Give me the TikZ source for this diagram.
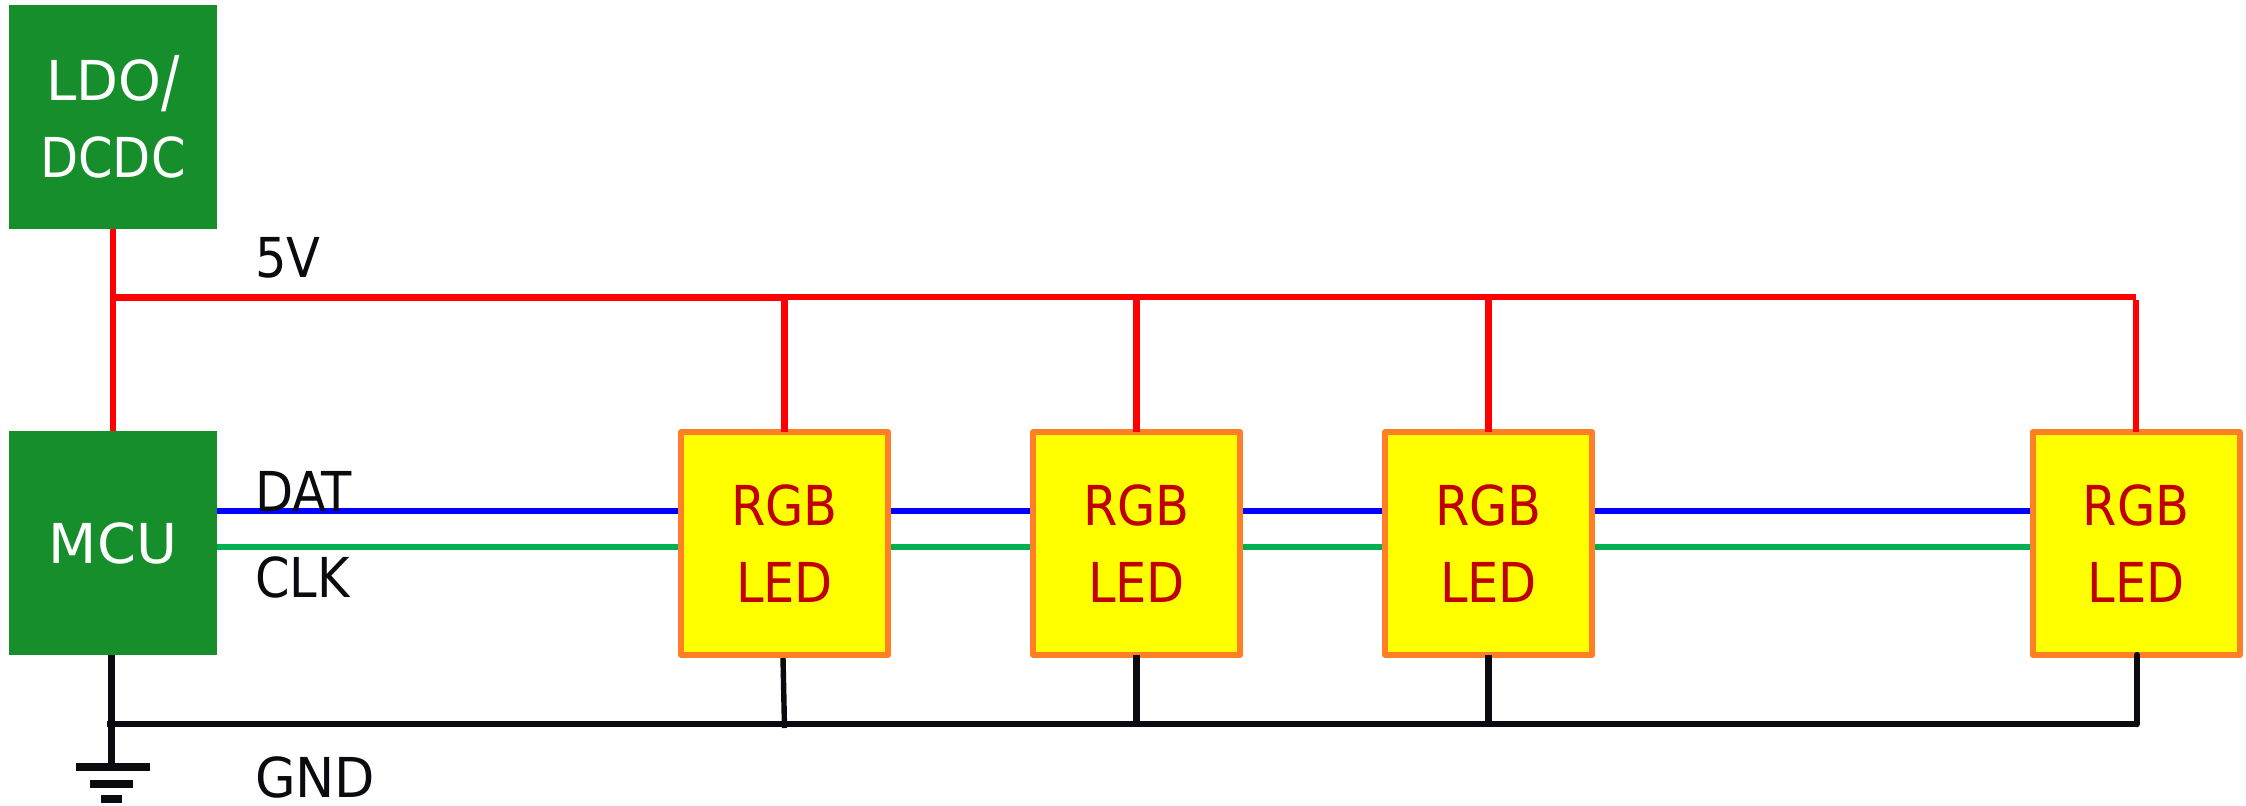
\documentclass[tikz,border=0pt]{standalone}
\usepackage{fontspec}
\usepackage{graphicx}
\setmainfont{DejaVu Sans Condensed}
\usetikzlibrary{backgrounds}
\definecolor{boxgreen}{RGB}{23,142,44}
\definecolor{ledorange}{RGB}{255,127,39}
\definecolor{ledtext}{RGB}{192,0,0}
\definecolor{clkgreen}{RGB}{0,176,80}
\definecolor{inkblack}{RGB}{10,10,15}
\definecolor{ledyellow}{RGB}{255,255,0}
\definecolor{pwrred}{RGB}{255,0,0}
\definecolor{datblue}{RGB}{0,0,255}
\tikzset{
  every node/.style={font=\fontsize{27.5}{38.5}\selectfont},
  ctrl/.style={fill=boxgreen,text=white,inner sep=0pt,outer sep=0pt,minimum width=104pt,minimum height=112pt,align=center},
  led/.style={fill=ledyellow,draw=ledorange,line width=3pt,line join=round,text=ledtext,inner sep=0pt,outer sep=0pt,minimum width=103.5pt,minimum height=111.5pt,align=center},
  lbl/.style={text=inkblack,inner sep=0pt,outer sep=0pt,anchor=base west},
  pwr/.style={draw=pwrred,line width=3.2pt},
  gnd/.style={draw=inkblack,line width=3.2pt},
  dat/.style={draw=datblue,line width=3.2pt},
  clk/.style={draw=clkgreen,line width=3.2pt}
}
\begin{document}
\begin{tikzpicture}[x=0.5pt,y=-0.5pt]
\useasboundingbox (0,0) rectangle (2246,805);
\node[ctrl] (ldo) at (113,117) {\scalebox{1.1}[1]{LDO}\raisebox{-2.2pt}{\scalebox{1.1}[1.25]{/}}\\DCDC};
\node[ctrl] (mcu) at (113,543) {\scalebox{1.13}[1]{MCU}};
\node[led] (l1) at (784.5,543.5) {RGB\\LED};
\node[led] (l2) at (1136.5,543.5) {RGB\\LED};
\node[led] (l3) at (1488.5,543.5) {RGB\\LED};
\node[led] (l4) at (2136,543.5) {RGB\\LED};
\node[lbl] (v5) at (255,277) {5V};
\node[lbl] (dt) at (255,511) {DAT};
\node[lbl] (ck) at (255,597) {CLK};
\node[lbl] (gn) at (255,797) {\scalebox{1.06}[1]{GND}};
% junctions
\coordinate (pl) at (113,297);
\coordinate (p1) at (784.5,297);
\coordinate (p2) at (1136.5,297);
\coordinate (p3) at (1488.5,297);
\coordinate (p4) at (2136,297);
\coordinate (gl) at (107,724);
\coordinate (gm) at (111.5,724);
\coordinate (g1) at (784.5,724);
\coordinate (g2) at (1136.5,724);
\coordinate (g3) at (1488.5,724);
\coordinate (g4) at (2137,724);
\coordinate (ge) at (111.5,765);
\coordinate (s1) at (783,658);
\coordinate (s2) at (784.5,728);
\coordinate (b1a) at (76,767);
\coordinate (b1b) at (150,767);
\coordinate (b2a) at (90,784);
\coordinate (b2b) at (133,784);
\coordinate (b3a) at (101,799);
\coordinate (b3b) at (122,799);
\begin{scope}[on background layer]
\draw[dat] (mcu.east |- 0,511) -- (l1.west |- 0,511);
\draw[dat] (l1.east |- 0,511) -- (l2.west |- 0,511);
\draw[dat] (l2.east |- 0,511) -- (l3.west |- 0,511);
\draw[dat] (l3.east |- 0,511) -- (l4.west |- 0,511);
\draw[clk] (mcu.east |- 0,547) -- (l1.west |- 0,547);
\draw[clk] (l1.east |- 0,547) -- (l2.west |- 0,547);
\draw[clk] (l2.east |- 0,547) -- (l3.west |- 0,547);
\draw[clk] (l3.east |- 0,547) -- (l4.west |- 0,547);
\end{scope}
% power
\draw[pwr] (ldo.south) -- (mcu.north);
\draw[pwr,line width=3.5pt] (pl) -- (p1);
\draw[pwr] (p1) -- (p4);
\draw[pwr] (p1) -- (l1.north);
\draw[pwr] (p2) -- (l2.north);
\draw[pwr] (p3) -- (l3.north);
\draw[pwr] ([yshift=-1.5pt]p4) -- (l4.north);
% ground
\draw[gnd] (gl) -- (g4);
\draw[gnd] (mcu.south -| ge) -- (ge);
\draw[gnd,line width=2.7pt] (s1) -- (s2);
\draw[gnd] (l2.south) -- (g2);
\draw[gnd] (l3.south) -- (g3);
\draw[gnd,line cap=round] (l4.south -| g4) -- (g4);
\draw[gnd,line width=3.6pt] (b1a) -- (b1b);
\draw[gnd,line width=3.6pt] (b2a) -- (b2b);
\draw[gnd,line width=3.6pt] (b3a) -- (b3b);
\end{tikzpicture}
\end{document}
